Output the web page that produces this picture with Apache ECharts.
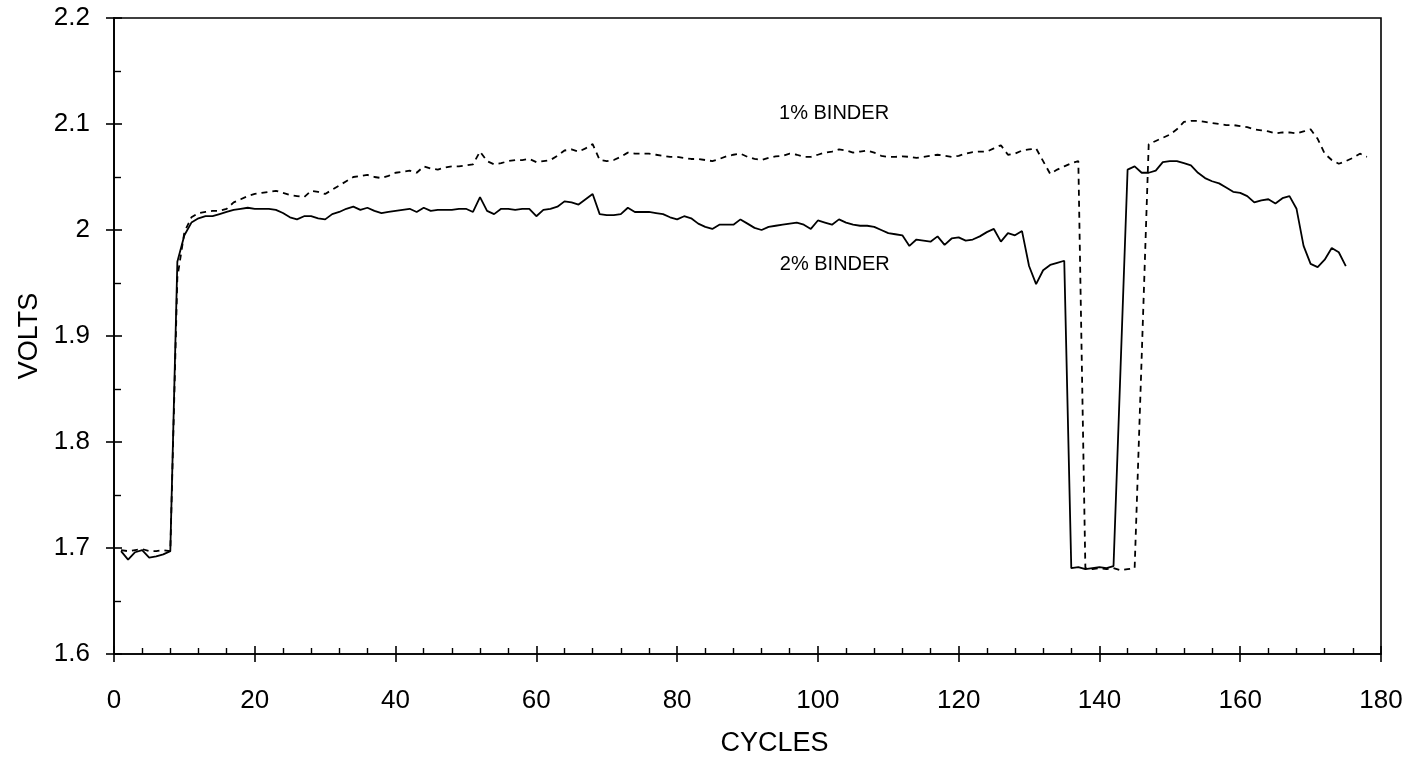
<!DOCTYPE html>
<html>
<head>
<meta charset="utf-8">
<script src="https://cdn.jsdelivr.net/npm/echarts@6/dist/echarts.min.js"></script>
<style>
  html, body { margin: 0; padding: 0; background: #fff; }
  #chart { width: 1420px; height: 771px; }
</style>
</head>
<body>
<div id="chart"></div>
<script>
// ---- data ----
const firstCycle = 1;

// 2% binder (solid line), one value per cycle starting at cycle 1
const binder2 = [
  1.697, 1.689, 1.696, 1.698, 1.691, 1.692, 1.694, 1.697, 1.970, 1.995,
  2.007, 2.011, 2.013, 2.013, 2.015, 2.017, 2.019, 2.020, 2.021, 2.020,
  2.020, 2.020, 2.019, 2.016, 2.012, 2.010, 2.013, 2.013, 2.011, 2.010,
  2.015, 2.017, 2.020, 2.022, 2.019, 2.021, 2.018, 2.016, 2.017, 2.018,
  2.019, 2.020, 2.017, 2.021, 2.018, 2.019, 2.019, 2.019, 2.020, 2.020,
  2.017, 2.031, 2.018, 2.015, 2.020, 2.020, 2.019, 2.020, 2.020, 2.013,
  2.019, 2.020, 2.022, 2.027, 2.026, 2.024, 2.029, 2.034, 2.015, 2.014,
  2.014, 2.015, 2.021, 2.017, 2.017, 2.017, 2.016, 2.015, 2.012, 2.010,
  2.013, 2.011, 2.006, 2.003, 2.001, 2.005, 2.005, 2.005, 2.010, 2.006,
  2.002, 2.000, 2.003, 2.004, 2.005, 2.006, 2.007, 2.005, 2.001, 2.009,
  2.007, 2.005, 2.010, 2.007, 2.005, 2.004, 2.004, 2.003, 2.000, 1.997,
  1.996, 1.995, 1.985, 1.991, 1.990, 1.989, 1.994, 1.986, 1.992, 1.993,
  1.990, 1.991, 1.994, 1.998, 2.001, 1.989, 1.997, 1.995, 1.999, 1.966,
  1.949, 1.962, 1.967, 1.969, 1.971, 1.681, 1.682, 1.680, 1.681, 1.682,
  1.681, 1.683, 1.870, 2.057, 2.060, 2.054, 2.054, 2.056, 2.064, 2.065,
  2.065, 2.063, 2.061, 2.054, 2.049, 2.046, 2.044, 2.040, 2.036, 2.035,
  2.032, 2.026, 2.028, 2.029, 2.025, 2.030, 2.032, 2.020, 1.985, 1.968,
  1.965, 1.972, 1.983, 1.979, 1.966
];

// 1% binder (dashed line), one value per cycle starting at cycle 1
const binder1 = [
  1.698, 1.697, 1.698, 1.699, 1.697, 1.697, 1.698, 1.697, 1.955, 1.998,
  2.012, 2.016, 2.017, 2.018, 2.018, 2.020, 2.026, 2.029, 2.032, 2.034,
  2.035, 2.036, 2.037, 2.035, 2.033, 2.032, 2.031, 2.037, 2.036, 2.034,
  2.038, 2.042, 2.046, 2.050, 2.051, 2.052, 2.050, 2.049, 2.051, 2.054,
  2.055, 2.056, 2.054, 2.060, 2.058, 2.057, 2.059, 2.060, 2.060, 2.061,
  2.062, 2.074, 2.065, 2.062, 2.063, 2.065, 2.066, 2.066, 2.067, 2.064,
  2.065, 2.066, 2.070, 2.075, 2.076, 2.074, 2.077, 2.081, 2.066, 2.065,
  2.066, 2.069, 2.073, 2.072, 2.072, 2.072, 2.071, 2.070, 2.069, 2.069,
  2.068, 2.067, 2.067, 2.066, 2.065, 2.067, 2.0695, 2.071, 2.072, 2.069,
  2.067, 2.066, 2.068, 2.0695, 2.070, 2.072, 2.071, 2.069, 2.069, 2.071,
  2.073, 2.074, 2.076, 2.075, 2.073, 2.074, 2.075, 2.073, 2.070, 2.069,
  2.069, 2.0695, 2.069, 2.068, 2.069, 2.070, 2.071, 2.070, 2.069, 2.070,
  2.072, 2.0735, 2.074, 2.074, 2.077, 2.080, 2.071, 2.072, 2.075, 2.076,
  2.077, 2.065, 2.053, 2.057, 2.060, 2.063, 2.065, 1.681, 1.680, 1.681,
  1.680, 1.681, 1.679, 1.680, 1.681, 1.880, 2.081, 2.084, 2.087, 2.090,
  2.095, 2.102, 2.103, 2.103, 2.102, 2.101, 2.100, 2.099, 2.099, 2.098,
  2.097, 2.095, 2.094, 2.093, 2.091, 2.092, 2.092, 2.091, 2.093, 2.095,
  2.086, 2.072, 2.066, 2.0625, 2.065, 2.068, 2.072, 2.069
];

// axis ranges / ticks
const xMin = 0, xMax = 180, xStep = 20;
const yMin = 1.6, yMax = 2.2, yStep = 0.1;
const xTitle = 'CYCLES';
const yTitle = 'VOLTS';

// in-plot curve labels: [text, cycle, volts]
const curveLabels = [
  ['1% BINDER', 102.3, 2.110],
  ['2% BINDER', 102.4, 1.9675]
];

// ---- chart ----
const FONT = '"Liberation Sans", Arial, Helvetica, sans-serif';
const toPairs = arr => arr.map((v, i) => [firstCycle + i, v]);

const chart = echarts.init(document.getElementById('chart'), null, { renderer: 'canvas' });

const baseX = { type: 'value', min: xMin, max: xMax, interval: xStep, position: 'bottom', splitLine: { show: false } };
const baseY = { type: 'value', min: yMin, max: yMax, interval: yStep, position: 'left', splitLine: { show: false } };

chart.setOption({
  animation: false,
  backgroundColor: '#ffffff',
  grid: {
    left: 114, right: 39, top: 18, bottom: 117,
    show: true, borderColor: '#000', borderWidth: 1.6, backgroundColor: 'transparent'
  },
  xAxis: [
    Object.assign({}, baseX, {
      name: xTitle, nameLocation: 'middle', nameGap: 76,
      nameTextStyle: { color: '#000', fontSize: 27, fontFamily: FONT, padding: [0, 0, 0, 54] },
      axisLine: { show: true, lineStyle: { color: '#000', width: 1.6 } },
      axisTick: { show: true, inside: false, length: 8, lineStyle: { color: '#000', width: 1.6 } },
      axisLabel: { color: '#000', fontSize: 26, fontFamily: FONT, margin: 34 }
    }),
    Object.assign({}, baseX, {
      axisLine: { show: false },
      axisTick: { show: true, inside: true, length: 8, lineStyle: { color: '#000', width: 1.6 } },
      minorTick: { show: true, splitNumber: 5, length: 6, lineStyle: { color: '#000', width: 1.4 } },
      axisLabel: { show: false }
    })
  ],
  yAxis: [
    Object.assign({}, baseY, {
      name: yTitle, nameLocation: 'middle', nameGap: 70, nameRotate: 90,
      nameTextStyle: { color: '#000', fontSize: 27, fontFamily: FONT },
      axisLine: { show: true, lineStyle: { color: '#000', width: 1.8 } },
      axisTick: { show: true, inside: false, length: 8, lineStyle: { color: '#000', width: 1.6 } },
      axisLabel: { color: '#000', fontSize: 26, fontFamily: FONT, margin: 24 }
    }),
    Object.assign({}, baseY, {
      axisLine: { show: false },
      axisTick: { show: true, inside: true, length: 8, lineStyle: { color: '#000', width: 1.6 } },
      minorTick: { show: true, splitNumber: 2, length: 7, lineStyle: { color: '#000', width: 1.4 } },
      axisLabel: { show: false }
    })
  ],
  series: [
    {
      name: '2% BINDER', type: 'line', xAxisIndex: 0, yAxisIndex: 0,
      data: toPairs(binder2), showSymbol: false, symbol: 'none', smooth: false,
      lineStyle: { color: '#000', width: 1.8, type: 'solid' }
    },
    {
      name: '1% BINDER', type: 'line', xAxisIndex: 0, yAxisIndex: 0,
      data: toPairs(binder1), showSymbol: false, symbol: 'none', smooth: false,
      lineStyle: { color: '#000', width: 1.8, type: [6, 5] }
    }
  ]
});

// place curve labels using the chart's own coordinate conversion
chart.setOption({
  graphic: curveLabels.map(([txt, cx, cy]) => {
    const p = chart.convertToPixel({ xAxisIndex: 0, yAxisIndex: 0 }, [cx, cy]);
    return {
      type: 'text', x: p[0], y: p[1],
      style: { text: txt, fill: '#000', font: '20px ' + FONT, textAlign: 'center', textVerticalAlign: 'middle' }
    };
  })
});
</script>
</body>
</html>
